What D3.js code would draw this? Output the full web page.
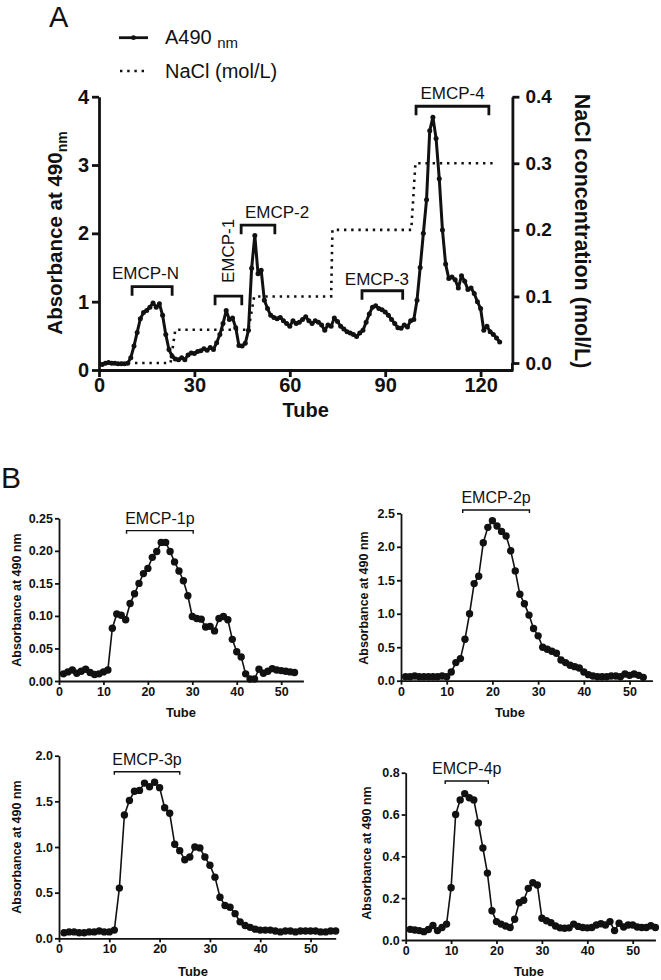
<!DOCTYPE html>
<html>
<head>
<meta charset="utf-8">
<script src="https://cdn.jsdelivr.net/npm/d3@7"></script>
<style>
  html, body { margin: 0; padding: 0; background: #fff; }
  svg { display: block; }
  text { font-family: "Liberation Sans", Arial, sans-serif; fill: #111; }
</style>
</head>
<body>
<svg id="chart" width="661" height="980"></svg>
<script>
// ---------------- DATA ----------------
// Panel A: absorbance at 490 nm, tubes 1..126
const mainA490 = [
  0.08,0.10,0.11,0.10,0.10,0.09,0.09,0.09,0.10,0.18,
  0.35,0.55,0.75,0.84,0.87,0.92,0.98,0.92,0.97,0.80,
  0.52,0.30,0.20,0.16,0.15,0.18,0.15,0.22,0.25,0.24,
  0.27,0.28,0.31,0.29,0.33,0.30,0.40,0.52,0.68,0.87,
  0.74,0.76,0.62,0.36,0.35,0.39,0.58,1.49,1.97,1.41,
  1.46,1.02,0.90,0.80,0.77,0.75,0.77,0.72,0.68,0.64,
  0.72,0.68,0.70,0.74,0.78,0.72,0.68,0.72,0.70,0.66,
  0.58,0.66,0.64,0.76,0.71,0.64,0.60,0.56,0.54,0.52,
  0.49,0.54,0.58,0.70,0.82,0.92,0.94,0.90,0.88,0.85,
  0.80,0.74,0.68,0.62,0.61,0.66,0.63,0.72,0.74,1.02,
  1.50,2.00,2.49,3.50,3.70,3.39,2.80,2.05,1.55,1.34,
  1.36,1.32,1.20,1.38,1.30,1.18,1.20,1.12,1.00,0.90,
  0.58,0.64,0.56,0.52,0.47,0.41
];
// NaCl gradient (mol/L)
const naclTube = [0, 22.5, 24, 47, 48.8, 73, 73.4, 98.2, 99.5, 124];
const naclConc = [0, 0, 0.05, 0.05, 0.10, 0.10, 0.20, 0.20, 0.30, 0.30];

const mainXTicks = [0, 30, 60, 90, 120];
const mainLeftTicks = [0, 1, 2, 3, 4];
const mainRightTicks = [0.0, 0.1, 0.2, 0.3, 0.4];

// Fraction annotations in panel A
const annLabels = ["EMCP-N", "EMCP-1", "EMCP-2", "EMCP-3", "EMCP-4"];
const annStart = [10.4, 36.5, 44.7, 82.7, 99.7];
const annEnd = [23.0, 44.9, 55.3, 95.5, 122.6];
const annLevel = [1.22, 1.08, 2.12, 1.16, 3.86];

// Panel B: second purification profiles, tubes 1..n
const b1Values = [
  0.011,0.014,0.017,0.012,0.015,0.018,0.013,0.010,0.011,0.014,
  0.017,0.081,0.103,0.101,0.094,0.119,0.134,0.150,0.165,0.173,
  0.190,0.199,0.213,0.213,0.199,0.183,0.169,0.154,0.131,0.099,
  0.096,0.095,0.083,0.084,0.077,0.096,0.099,0.094,0.064,0.045,
  0.037,0.011,0.003,0.003,0.018,0.012,0.015,0.019,0.017,0.016,
  0.015,0.014,0.013
];
const b2Values = [
  0.06,0.06,0.07,0.06,0.06,0.06,0.06,0.06,0.07,0.06,
  0.13,0.27,0.33,0.62,1.00,1.45,1.56,2.06,2.29,2.39,
  2.31,2.23,2.16,1.94,1.64,1.29,1.15,0.98,0.78,0.67,
  0.50,0.47,0.44,0.41,0.31,0.27,0.23,0.21,0.19,0.13,
  0.09,0.07,0.06,0.06,0.06,0.07,0.07,0.06,0.10,0.08,
  0.10,0.08,0.05
];
const b3Values = [
  0.06,0.07,0.07,0.06,0.06,0.07,0.07,0.08,0.07,0.07,
  0.09,0.55,1.35,1.51,1.61,1.62,1.70,1.66,1.71,1.65,
  1.43,1.37,1.03,0.96,0.86,0.89,1.00,0.99,0.89,0.80,
  0.67,0.45,0.36,0.34,0.27,0.18,0.14,0.12,0.10,0.09,
  0.09,0.09,0.08,0.07,0.08,0.08,0.07,0.08,0.08,0.08,
  0.08,0.07,0.07,0.08,0.08
];
const b4Values = [
  0.051,0.048,0.045,0.040,0.050,0.069,0.045,0.060,0.076,0.250,
  0.600,0.670,0.700,0.680,0.670,0.560,0.440,0.320,0.140,0.088,
  0.076,0.067,0.060,0.099,0.178,0.190,0.247,0.274,0.263,0.104,
  0.092,0.083,0.067,0.058,0.056,0.058,0.076,0.065,0.060,0.058,
  0.060,0.072,0.078,0.072,0.088,0.045,0.080,0.062,0.072,0.072,
  0.062,0.060,0.060,0.068,0.060
];
const b1Ticks = [0, 0.05, 0.10, 0.15, 0.20, 0.25];
const b2Ticks = [0, 0.5, 1.0, 1.5, 2.0, 2.5];
const b3Ticks = [0, 0.5, 1.0, 1.5, 2.0];
const b4Ticks = [0, 0.2, 0.4, 0.6, 0.8];
const bXTicks = [0, 10, 20, 30, 40, 50];
const bLabels = ["EMCP-1p", "EMCP-2p", "EMCP-3p", "EMCP-4p"];
const bBracketStart = [15.2, 13.5, 11.0, 8.7];
const bBracketEnd = [30.2, 28.1, 24.0, 18.2];
const bBracketLevel = [0.231, 2.55, 1.825, 0.76];

// ---------------- DRAW ----------------
const svg = d3.select("#chart");
const INK = "#111";

// Panel letters
svg.append("text").attr("x", 49).attr("y", 27).attr("font-size", 29).text("A");
svg.append("text").attr("x", 1).attr("y", 488).attr("font-size", 30).text("B");

// ----- Panel A -----
const x = d3.scaleLinear().domain([0, 130]).range([99, 512.4]);
const yL = d3.scaleLinear().domain([0, 4]).range([370, 96.7]);
const yR = d3.scaleLinear().domain([0, 0.4]).range([363, 96.7]);

const gA = svg.append("g");

// NaCl dotted
const naclData = naclTube.map((t, i) => [t, naclConc[i]]);
gA.append("path")
  .datum(naclData)
  .attr("fill", "none")
  .attr("stroke", INK)
  .attr("stroke-width", 2.6)
  .attr("stroke-dasharray", "2.4,4.8")
  .attr("d", d3.line().x(d => x(d[0])).y(d => yR(d[1])));

// A490 line
const aData = mainA490.map((v, i) => [i + 1, v]);
gA.append("path")
  .datum(aData)
  .attr("fill", "none")
  .attr("stroke", INK)
  .attr("stroke-width", 3)
  .attr("stroke-linejoin", "round")
  .attr("d", d3.line().x(d => x(d[0])).y(d => yL(d[1])));
gA.selectAll("circle.a").data(aData).enter().append("circle")
  .attr("cx", d => x(d[0])).attr("cy", d => yL(d[1])).attr("r", 2.5).attr("fill", INK);

// Axes
function styleAxis(g, width, fontSize) {
  g.select(".domain").attr("stroke", INK).attr("stroke-width", width);
  g.selectAll(".tick line").attr("stroke", INK).attr("stroke-width", width);
  g.selectAll(".tick text").attr("fill", INK).attr("font-size", fontSize)
    .attr("font-weight", "bold").attr("font-family", '"Liberation Sans", Arial, sans-serif');
}

const axB = gA.append("g").attr("transform", "translate(0,370)")
  .call(d3.axisBottom(x).tickValues(mainXTicks).tickSize(7).tickSizeOuter(0).tickPadding(1).tickFormat(d3.format("d")));
styleAxis(axB, 2.8, 20);

const axL = gA.append("g").attr("transform", "translate(99,0)")
  .call(d3.axisLeft(yL).tickValues(mainLeftTicks).tickSize(7).tickSizeOuter(0).tickPadding(3).tickFormat(d3.format("d")));
styleAxis(axL, 2.8, 20);

const axR = gA.append("g").attr("transform", "translate(512.4,0)")
  .call(d3.axisRight(yR).tickValues(mainRightTicks).tickSize(7).tickSizeOuter(0).tickPadding(6).tickFormat(d3.format(".1f")));
styleAxis(axR, 2.8, 19);
// extend right axis line to the x axis
gA.append("line").attr("x1", 512.4).attr("x2", 512.4).attr("y1", yR(0)).attr("y2", 371.4)
  .attr("stroke", INK).attr("stroke-width", 2.8);

// Axis titles
const lt = gA.append("text")
  .attr("transform", "translate(62,233) rotate(-90)")
  .attr("text-anchor", "middle").attr("font-size", 20.5).attr("font-weight", "bold");
lt.append("tspan").text("Absorbance at 490");
lt.append("tspan").attr("font-size", 14).attr("dy", 5).text("nm");

gA.append("text")
  .attr("transform", "translate(575,231) rotate(90)")
  .attr("text-anchor", "middle").attr("font-size", 21.5).attr("font-weight", "bold")
  .text("NaCl concentration (mol/L)");

gA.append("text").attr("x", x(65)).attr("y", 417)
  .attr("text-anchor", "middle").attr("font-size", 20).attr("font-weight", "bold").text("Tube");

// Legend
gA.append("line").attr("x1", 119).attr("x2", 148).attr("y1", 37.7).attr("y2", 37.7)
  .attr("stroke", INK).attr("stroke-width", 2.8);
gA.append("circle").attr("cx", 133.5).attr("cy", 37.7).attr("r", 2.4).attr("fill", INK);
const lg1 = gA.append("text").attr("x", 165).attr("y", 44).attr("font-size", 20);
lg1.append("tspan").text("A490 ");
lg1.append("tspan").attr("font-size", 15).attr("dy", 4).text("nm");
gA.append("line").attr("x1", 120).attr("x2", 146).attr("y1", 71).attr("y2", 71)
  .attr("stroke", INK).attr("stroke-width", 2.4).attr("stroke-dasharray", "2.4,4.8");
gA.append("text").attr("x", 165).attr("y", 78).attr("font-size", 20).text("NaCl (mol/L)");

// Annotations with brackets
const annTextTube = [14.6, 40.7, 56.0, 87.4, 111.2];
const annTextY = [279, 251, 218, 285, 99];
annLabels.forEach((lab, i) => {
  const x1 = x(annStart[i]), x2 = x(annEnd[i]), yy = yL(annLevel[i]);
  gA.append("path")
    .attr("d", `M${x1},${yy + 9}V${yy}H${x2}V${yy + 9}`)
    .attr("fill", "none").attr("stroke", INK).attr("stroke-width", 2.8);
  if (i === 1) {
    gA.append("text")
      .attr("transform", `translate(${x(annTextTube[i]) + 6},${annTextY[i]}) rotate(-90)`)
      .attr("text-anchor", "middle").attr("font-size", 17).text(lab);
  } else {
    gA.append("text").attr("x", x(annTextTube[i])).attr("y", annTextY[i])
      .attr("text-anchor", "middle").attr("font-size", 17).text(lab);
  }
});

// ----- Panel B -----
const panels = [
  { vals: b1Values, ticks: b1Ticks, fmt: ".2f", xr: [59, 303.4], yr: [681, 518.3], ymax: 0.25,
    title: [17, 600], tube: [181, 717] },
  { vals: b2Values, ticks: b2Ticks, fmt: ".1f", xr: [401, 652.4], yr: [680.7, 513.3], ymax: 2.5,
    title: [364, 598], tube: [510, 717] },
  { vals: b3Values, ticks: b3Ticks, fmt: ".1f", xr: [59, 335.7], yr: [938.3, 755.7], ymax: 2.0,
    title: [17, 847], tube: [193, 976] },
  { vals: b4Values, ticks: b4Ticks, fmt: ".1f", xr: [405.7, 655.4], yr: [940, 772.7], ymax: 0.8,
    title: [367, 853], tube: [529, 976] }
];

panels.forEach((p, k) => {
  const g = svg.append("g");
  const xs = d3.scaleLinear().domain([0, 55]).range(p.xr);
  const ys = d3.scaleLinear().domain([0, p.ymax]).range(p.yr);
  const data = p.vals.map((v, i) => [i + 1, v]);

  g.append("path").datum(data)
    .attr("fill", "none").attr("stroke", INK).attr("stroke-width", 1.6)
    .attr("d", d3.line().x(d => xs(d[0])).y(d => ys(d[1])));
  g.selectAll("circle").data(data).enter().append("circle")
    .attr("cx", d => xs(d[0])).attr("cy", d => ys(d[1])).attr("r", 3.7).attr("fill", INK);

  const ax = g.append("g").attr("transform", `translate(0,${p.yr[0]})`)
    .call(d3.axisBottom(xs).tickValues(bXTicks).tickSize(4).tickSizeOuter(0).tickPadding(2).tickFormat(d3.format("d")));
  styleAxis(ax, 1.8, 12.5);
  const ay = g.append("g").attr("transform", `translate(${p.xr[0]},0)`)
    .call(d3.axisLeft(ys).tickValues(p.ticks).tickSize(4).tickSizeOuter(0).tickPadding(2).tickFormat(d3.format(p.fmt)));
  styleAxis(ay, 1.8, 12.5);

  g.append("text")
    .attr("transform", `translate(${p.title[0] + 4},${p.title[1]}) rotate(-90)`)
    .attr("text-anchor", "middle").attr("font-size", 12.5).attr("font-weight", "bold")
    .text("Absorbance at 490 nm");
  g.append("text").attr("x", p.tube[0]).attr("y", p.tube[1])
    .attr("text-anchor", "middle").attr("font-size", 13).attr("font-weight", "bold").text("Tube");

  // bracket
  const bx1 = xs(bBracketStart[k]), bx2 = xs(bBracketEnd[k]), by = ys(bBracketLevel[k]);
  g.append("path").attr("d", `M${bx1},${by + 3}V${by}H${bx2}V${by + 3}`)
    .attr("fill", "none").attr("stroke", INK).attr("stroke-width", 1.4);
  g.append("text").attr("x", (bx1 + bx2) / 2).attr("y", by - 7)
    .attr("text-anchor", "middle").attr("font-size", 16).text(bLabels[k]);
});
</script>
</body>
</html>
